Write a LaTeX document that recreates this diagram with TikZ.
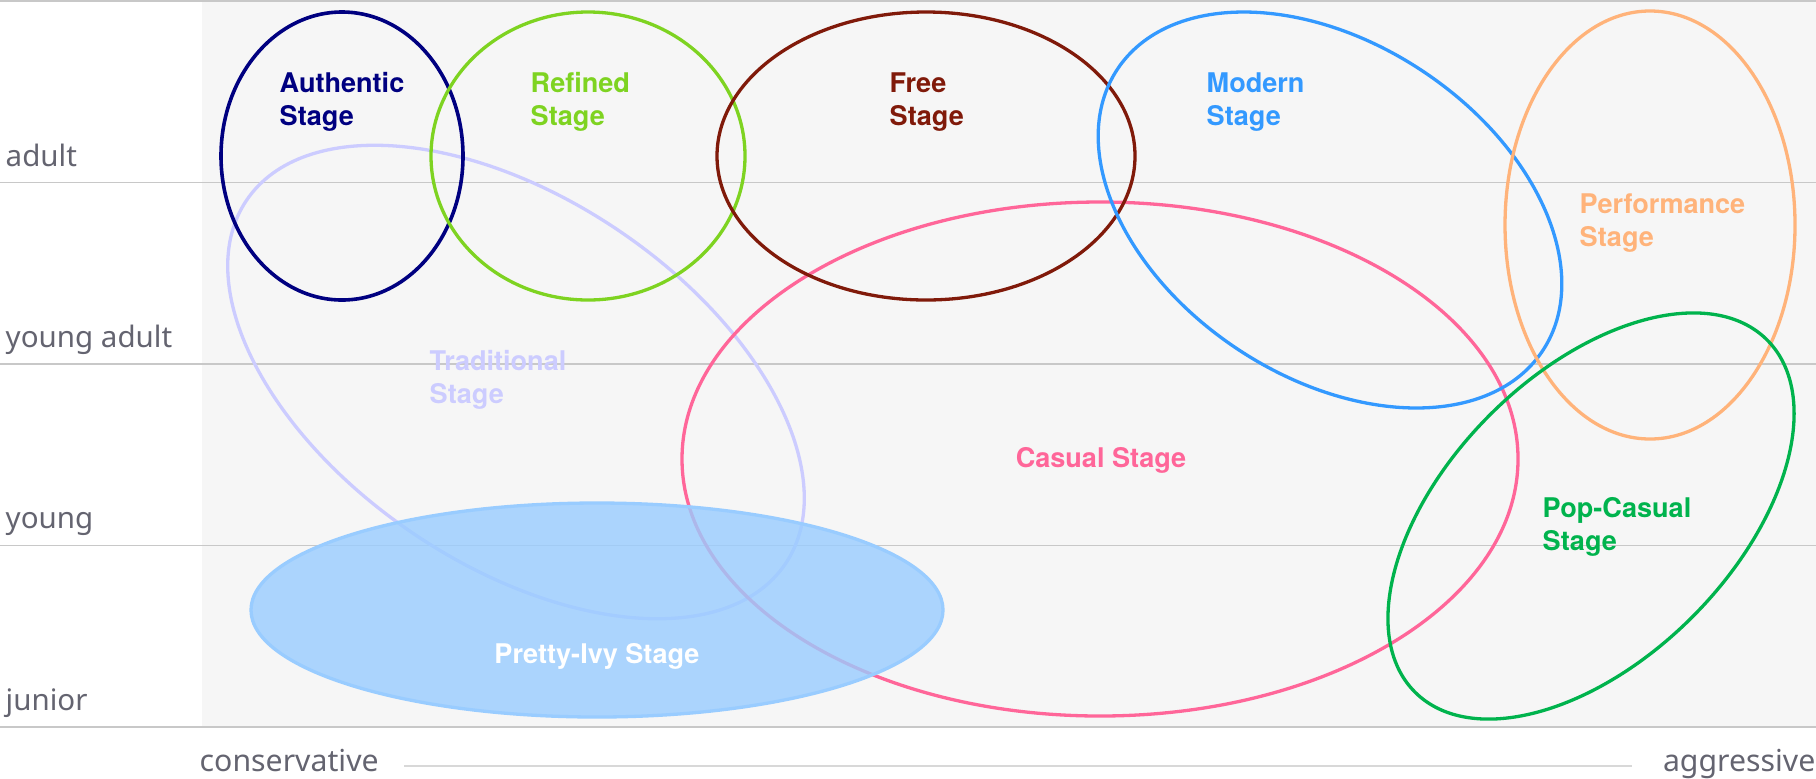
\documentclass[tikz,border=0pt]{standalone}
\usepackage{fontspec}
\setmainfont{Noto Sans}
\newfontfamily\stagefont{TeX Gyre Heros}
\definecolor{authcol}{RGB}{0,0,128}
\definecolor{reficol}{RGB}{126,211,33}
\definecolor{freecol}{RGB}{128,26,10}
\definecolor{modecol}{RGB}{51,153,255}
\definecolor{perfcol}{RGB}{255,179,122}
\definecolor{casucol}{RGB}{255,102,153}
\definecolor{popcol}{RGB}{0,179,77}
\definecolor{tradcol}{RGB}{204,204,255}
\definecolor{ivycol}{RGB}{153,204,255}
\definecolor{bgcol}{RGB}{246,246,246}
\definecolor{gridcol}{RGB}{200,200,200}
\definecolor{axiscol}{RGB}{216,216,216}
\definecolor{textcol}{RGB}{100,100,112}
\begin{document}
\begin{tikzpicture}[x=0.01cm,y=-0.01cm,
    ring/.style={line width=0.33mm},
    gridline/.style={draw=gridcol,line width=0.14mm},
    stage/.style={inner sep=0pt,align=left,anchor=west,font=\stagefont\fontsize{7.7pt}{9.3pt}\selectfont\bfseries},
    age/.style={inner sep=0pt,anchor=base west,text=textcol,font=\fontsize{8.4pt}{10pt}\selectfont},
    axislabel/.style={inner sep=0pt,text=textcol,text height=0.76em,text depth=0.24em,font=\fontsize{8.6pt}{10pt}\selectfont}]
  \useasboundingbox (0,0) rectangle (1816,778);
  \fill[bgcol] (202,0) rectangle (1816,727);
  %\draw [gridline] (0,y) -- (1816,y);
  \draw[gridline] (0,1) -- (1816,1);
  \draw[gridline] (0,182.5) -- (1816,182.5);
  \draw[gridline] (0,364) -- (1816,364);
  \draw[gridline] (0,545.5) -- (1816,545.5);
  \draw[gridline] (0,727) -- (1816,727);

  \node[age] (adult) at (5,166) {adult};
  \node[age] (yadult) at (5,347) {young adult};
  \node[age] (young) at (5,528) {young};
  \node[age] (junior) at (5,710) {junior};
  \node[axislabel,anchor=base west] (cons) at (199,771) {conservative};
  \node[axislabel,anchor=base east] (aggr) at (1816,771) {aggressive};
  \draw[draw=axiscol,line width=0.15mm,shorten <=2.5mm,shorten >=3mm] ([yshift=-0.4mm]cons.east) -- ([yshift=-0.4mm]aggr.west);

  % ellipse centres
  \coordinate (c-auth) at (342,156);
  \coordinate (c-refi) at (588,156);
  \coordinate (c-free) at (926,156);
  \coordinate (c-mode) at (1330,210);
  \coordinate (c-perf) at (1650,225);
  \coordinate (c-casu) at (1100,459);
  \coordinate (c-pop) at (1591,516);
  \coordinate (c-trad) at (516,382);
  \coordinate (c-ivy) at (597,610);

  \draw[ring,tradcol,rotate around={-34:(c-trad)}] (c-trad) ellipse [x radius=325,y radius=183];
  \draw[ring,casucol] (c-casu) ellipse [x radius=418,y radius=257];
  \draw[ring,authcol,line width=0.36mm] (c-auth) ellipse [x radius=121,y radius=144];
  \draw[ring,reficol] (c-refi) ellipse [x radius=157,y radius=144];
  \draw[ring,freecol] (c-free) ellipse [x radius=209,y radius=144];
  \draw[ring,modecol,rotate around={-33.5:(c-mode)}] (c-mode) ellipse [x radius=255,y radius=167];
  \draw[ring,perfcol] (c-perf) ellipse [x radius=145,y radius=214];
  \draw[ring,popcol,rotate around={45:(c-pop)}] (c-pop) ellipse [x radius=249,y radius=143];
  \draw[ring,ivycol,fill=ivycol,fill opacity=0.8] (c-ivy) ellipse [x radius=346,y radius=107];

  \node[stage,text=authcol] (auth) at (279,102) {Authentic\\Stage};
  \node[stage,text=reficol] (refi) at (530,102) {Refined\\Stage};
  \node[stage,text=freecol] (free) at (889,102) {Free\\Stage};
  \node[stage,text=modecol] (mode) at (1206,102) {Modern\\Stage};
  \node[stage,text=perfcol] (perf) at (1579,223) {Performance\\Stage};
  \node[stage,text=popcol] (pop) at (1542,527) {Pop-Casual\\Stage};
  \node[stage,text=tradcol] (trad) at (429,380) {Traditional\\Stage};
  \node[stage,text=casucol,anchor=center] (casu) at (1101,460) {Casual Stage};
  \node[stage,text=white,anchor=center] (ivy) at (597,656) {Pretty-Ivy Stage};
\end{tikzpicture}
\end{document}
